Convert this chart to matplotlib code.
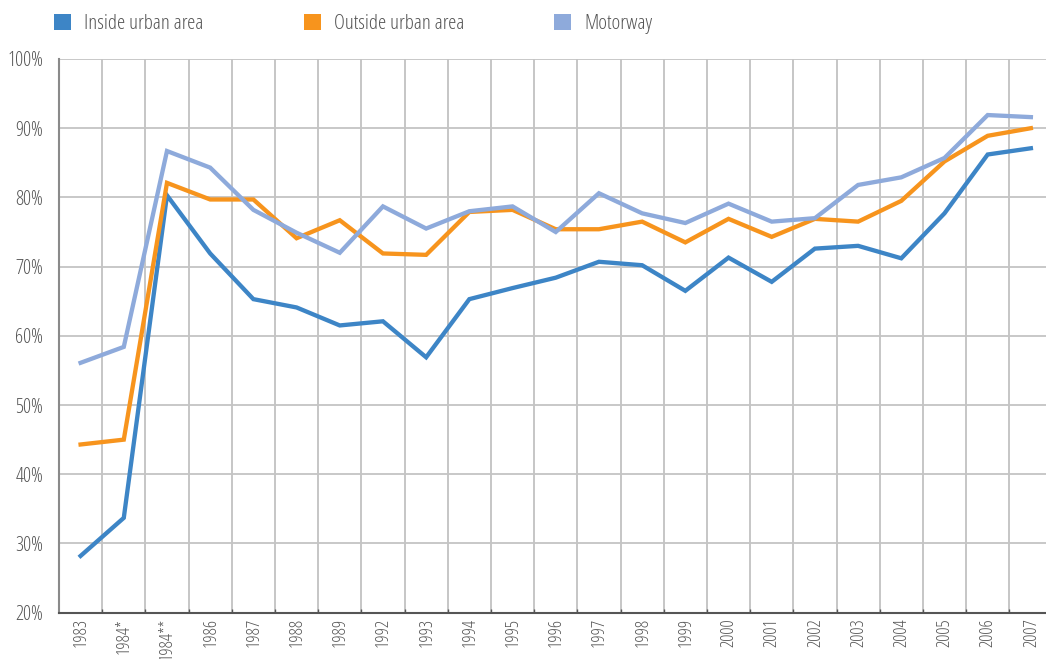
import matplotlib
matplotlib.use("Agg")
import matplotlib.pyplot as plt
from matplotlib.patches import Rectangle
from matplotlib.ticker import FixedLocator, PercentFormatter

plt.rcParams['font.family'] = ['Open Sans', 'DejaVu Sans']
plt.rcParams['font.stretch'] = 'condensed'
plt.rcParams['font.weight'] = 'light'

years = ["1983", "1984*", "1984**", "1986", "1987", "1988", "1989", "1992",
         "1993", "1994", "1995", "1996", "1997", "1998", "1999", "2000",
         "2001", "2002", "2003", "2004", "2005", "2006", "2007"]

inside_urban = [28.2, 33.7, 80.3, 71.9, 65.3, 64.1, 61.5, 62.1, 56.9, 65.3,
                66.9, 68.4, 70.7, 70.2, 66.5, 71.3, 67.8, 72.6, 73.0, 71.2,
                77.7, 86.2, 87.1]
outside_urban = [44.3, 45.0, 82.1, 79.7, 79.7, 74.1, 76.7, 71.9, 71.7, 77.9,
                 78.2, 75.4, 75.4, 76.5, 73.5, 76.9, 74.3, 76.9, 76.5, 79.5,
                 85.2, 88.9, 90.0]
motorway = [56.1, 58.4, 86.7, 84.3, 78.2, 74.9, 72.0, 78.7, 75.5, 78.0,
            78.7, 75.0, 80.6, 77.7, 76.3, 79.1, 76.5, 77.0, 81.8, 82.9,
            85.7, 91.9, 91.6]

series_names = ["Inside urban area", "Outside urban area", "Motorway"]
series_colors = ["#3d85c6", "#f7941d", "#8eaadb"]
text_color = "#555555"

fig = plt.figure(figsize=(10.46, 6.59), dpi=100)
ax = fig.add_axes([0.0564, 0.0703, 0.9436, 0.8402])

x = list(range(len(years)))
for vals, col in zip([inside_urban, outside_urban, motorway], series_colors):
    ax.plot(x, vals, color=col, lw=3.1, solid_joinstyle='miter', zorder=3)

ax.set_xlim(-0.5, 22.35)
ax.set_ylim(20, 100)
ax.set_yticks(range(20, 101, 10))
ax.yaxis.set_major_formatter(PercentFormatter(decimals=0))
ax.set_xticks(x)
ax.set_xticklabels(years, rotation=90, fontsize=13, color=text_color)
ax.xaxis.set_minor_locator(FixedLocator([i + 0.5 for i in x]))

ax.tick_params(axis='y', length=0, pad=11.5, labelsize=14.5, labelcolor=text_color)
ax.tick_params(axis='x', which='major', length=0, pad=4)
ax.tick_params(axis='x', which='minor', length=3, direction='in', color='#555555', width=1)

ax.grid(axis='y', color='#c4c4c4', lw=1.3, zorder=0)
ax.grid(axis='x', which='minor', color='#b6b6b6', lw=1.1, zorder=0)

for side in ['top', 'right']:
    ax.spines[side].set_visible(False)
ax.spines['left'].set_color('#8a8a8a')
ax.spines['left'].set_linewidth(1.5)
ax.spines['bottom'].set_color('#555555')
ax.spines['bottom'].set_linewidth(1.5)

# Legend drawn along the top edge of the figure
W, H = 1046, 659
legend_x = [54.3, 304.3, 554.3]
for name, col, lx in zip(series_names, series_colors, legend_x):
    fig.add_artist(Rectangle((lx / W, (H - 29.5) / H), 16.5 / W, 16 / H,
                             transform=fig.transFigure, color=col, lw=0))
    fig.text((lx + 29.7) / W, (H - 29) / H, name, fontsize=15,
             color=text_color, va='baseline', ha='left')

fig.savefig("out.png", dpi=100)
